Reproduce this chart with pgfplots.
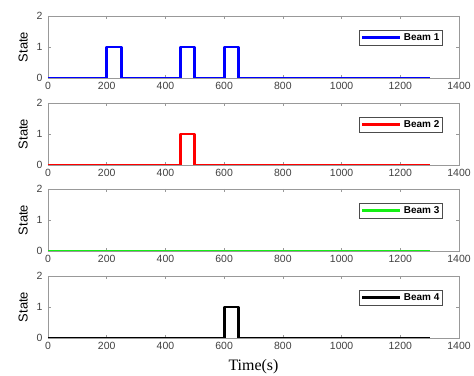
\documentclass[border=0pt]{standalone}
\usepackage{pgfplots}
\pgfplotsset{compat=1.18}
\usepackage{fontspec}
\setmainfont{Liberation Sans}
\newfontfamily\serifff{Liberation Serif}
\definecolor{bgreen}{RGB}{20,240,20}
\pgfplotsset{
  beam/.style={
    scale only axis, width=411bp, height=62bp,
    xmin=0, xmax=1400, ymin=0, ymax=2,
    xtick={0,200,...,1400}, ytick={0,1,2},
    tick align=inside, major tick length=3bp,
    axis line style={gray!80, line width=0.6pt},
    tick style={gray!80, line width=0.5pt},
    ticklabel style={font=\fontsize{10.5}{11}\selectfont, text=black!75},
    xticklabel style={yshift=-1bp},
    yticklabel style={xshift=-2bp},
    /pgf/number format/assume math mode=true,
    /pgf/number format/1000 sep={},
    ylabel={State}, ylabel style={font=\fontsize{13}{14}\selectfont, yshift=2bp},
    legend style={at={(0.96,0.77)}, anchor=north east, font=\fontsize{10}{11}\selectfont\bfseries,
      draw=black!70, inner sep=1pt, row sep=0pt, legend cell align=left},
    legend image code/.code={\draw[#1, line width=3pt] (0cm,0cm) -- (1.35cm,0cm);},
    every axis plot/.append style={line width=3pt, line join=round},
  }
}
\begin{document}
\begin{tikzpicture}
\useasboundingbox (0,0) rectangle (474bp,376bp);
\begin{axis}[beam, at={(48bp,298bp)}, anchor=south west]
\addplot[blue] coordinates {(0,0) (200,0) (200,1) (250,1) (250,0) (450,0) (450,1) (500,1) (500,0) (600,0) (600,1) (650,1) (650,0) (1300,0)};
\addlegendentry{Beam 1}
\end{axis}
\begin{axis}[beam, at={(48bp,211bp)}, anchor=south west]
\addplot[red] coordinates {(0,0) (450,0) (450,1) (500,1) (500,0) (1300,0)};
\addlegendentry{Beam 2}
\end{axis}
\begin{axis}[beam, at={(48bp,125bp)}, anchor=south west]
\addplot[bgreen] coordinates {(0,0) (1300,0)};
\addlegendentry{Beam 3}
\end{axis}
\begin{axis}[beam, at={(48bp,38bp)}, anchor=south west,
  xlabel={Time(s)}, xlabel style={font=\serifff\fontsize{16}{17}\selectfont, yshift=-3bp}]
\addplot[black] coordinates {(0,0) (600,0) (600,1) (650,1) (650,0) (1300,0)};
\addlegendentry{Beam 4}
\end{axis}
\end{tikzpicture}
\end{document}
